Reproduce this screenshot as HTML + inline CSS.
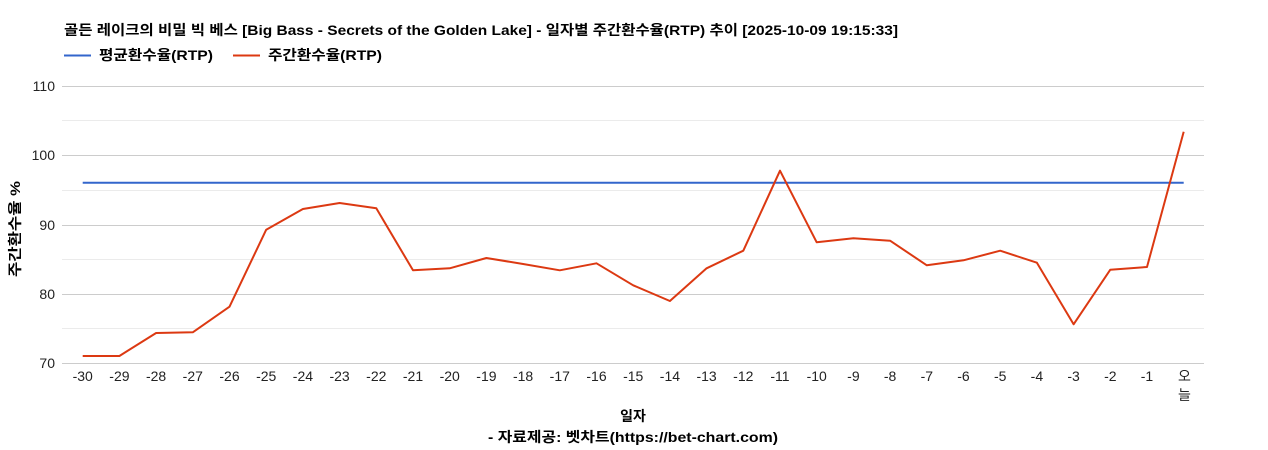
<!DOCTYPE html>
<html><head><meta charset="utf-8"><style>
html,body{margin:0;padding:0;background:#fff;}
svg{display:block;font-family:"Liberation Sans","Noto Sans CJK KR",sans-serif;}
</style></head><body>
<svg width="1268" height="450" viewBox="0 0 1268 450" xmlns="http://www.w3.org/2000/svg">
<rect width="1268" height="450" fill="#fff"/>
<text x="64" y="35" font-size="14" font-weight="bold" fill="#000" textLength="834" lengthAdjust="spacingAndGlyphs">골든 레이크의 비밀 빅 베스 [Big Bass - Secrets of the Golden Lake] - 일자별 주간환수율(RTP) 추이 [2025-10-09 19:15:33]</text>
<line x1="64" y1="55.5" x2="91" y2="55.5" stroke="#3366cc" stroke-width="2"/>
<text x="99" y="60" font-size="14" font-weight="bold" fill="#000" textLength="114" lengthAdjust="spacingAndGlyphs">평균환수율(RTP)</text>
<line x1="233" y1="55.5" x2="260" y2="55.5" stroke="#dc3912" stroke-width="2"/>
<text x="268" y="60" font-size="14" font-weight="bold" fill="#000" textLength="114" lengthAdjust="spacingAndGlyphs">주간환수율(RTP)</text>
<g stroke-width="1">
<line x1="62" y1="120.5" x2="1204" y2="120.5" stroke="#ebebeb"/>
<line x1="62" y1="190.5" x2="1204" y2="190.5" stroke="#ebebeb"/>
<line x1="62" y1="259.5" x2="1204" y2="259.5" stroke="#ebebeb"/>
<line x1="62" y1="328.5" x2="1204" y2="328.5" stroke="#ebebeb"/>
<line x1="62" y1="86.5" x2="1204" y2="86.5" stroke="#cccccc"/>
<line x1="62" y1="155.5" x2="1204" y2="155.5" stroke="#cccccc"/>
<line x1="62" y1="225.5" x2="1204" y2="225.5" stroke="#cccccc"/>
<line x1="62" y1="294.5" x2="1204" y2="294.5" stroke="#cccccc"/>
<line x1="62" y1="363.5" x2="1204" y2="363.5" stroke="#cccccc"/>
</g>
<g font-size="14" fill="#222" text-anchor="end">
<text x="55" y="91">110</text>
<text x="55" y="160">100</text>
<text x="55" y="230">90</text>
<text x="55" y="299">80</text>
<text x="55" y="368">70</text>
</g>
<text transform="translate(20,229) rotate(-90)" font-size="14" font-weight="bold" fill="#000" text-anchor="middle" textLength="96" lengthAdjust="spacingAndGlyphs">주간환수율 %</text>
<line x1="82.7" y1="182.7" x2="1183.7" y2="182.7" stroke="#3366cc" stroke-width="2"/>
<polyline fill="none" stroke="#dc3912" stroke-width="2" stroke-linejoin="round" points="82.7,356 119.4,356 156.1,333 192.8,332.3 229.5,306.7 266.2,229.7 302.9,209 339.6,203 376.3,208.3 413,270.3 449.7,268.3 486.4,258 523.1,264 559.8,270.3 596.5,263.3 633.2,285.3 669.9,301 706.6,268.3 743.3,250.7 780,170.7 816.7,242.3 853.4,238.3 890.1,240.7 926.8,265.3 963.5,260.3 1000.2,250.7 1036.9,262.7 1073.6,324.3 1110.3,269.7 1147,267 1183.7,131.7"/>
<g font-size="14" fill="#222" text-anchor="middle">
<text x="82.7" y="381">-30</text>
<text x="119.4" y="381">-29</text>
<text x="156.1" y="381">-28</text>
<text x="192.8" y="381">-27</text>
<text x="229.5" y="381">-26</text>
<text x="266.2" y="381">-25</text>
<text x="302.9" y="381">-24</text>
<text x="339.6" y="381">-23</text>
<text x="376.3" y="381">-22</text>
<text x="413" y="381">-21</text>
<text x="449.7" y="381">-20</text>
<text x="486.4" y="381">-19</text>
<text x="523.1" y="381">-18</text>
<text x="559.8" y="381">-17</text>
<text x="596.5" y="381">-16</text>
<text x="633.2" y="381">-15</text>
<text x="669.9" y="381">-14</text>
<text x="706.6" y="381">-13</text>
<text x="743.3" y="381">-12</text>
<text x="780" y="381">-11</text>
<text x="816.7" y="381">-10</text>
<text x="853.4" y="381">-9</text>
<text x="890.1" y="381">-8</text>
<text x="926.8" y="381">-7</text>
<text x="963.5" y="381">-6</text>
<text x="1000.2" y="381">-5</text>
<text x="1036.9" y="381">-4</text>
<text x="1073.6" y="381">-3</text>
<text x="1110.3" y="381">-2</text>
<text x="1147" y="381">-1</text>
<text x="1184.5" y="381">오</text>
<text x="1184.5" y="400">늘</text>
</g>
<text x="633" y="421" font-size="14" font-weight="bold" fill="#000" text-anchor="middle">일자</text>
<text x="633" y="442" font-size="14" font-weight="bold" fill="#000" text-anchor="middle" textLength="290" lengthAdjust="spacingAndGlyphs">- 자료제공: 벳차트(https://bet-chart.com)</text>
</svg>
</body></html>
